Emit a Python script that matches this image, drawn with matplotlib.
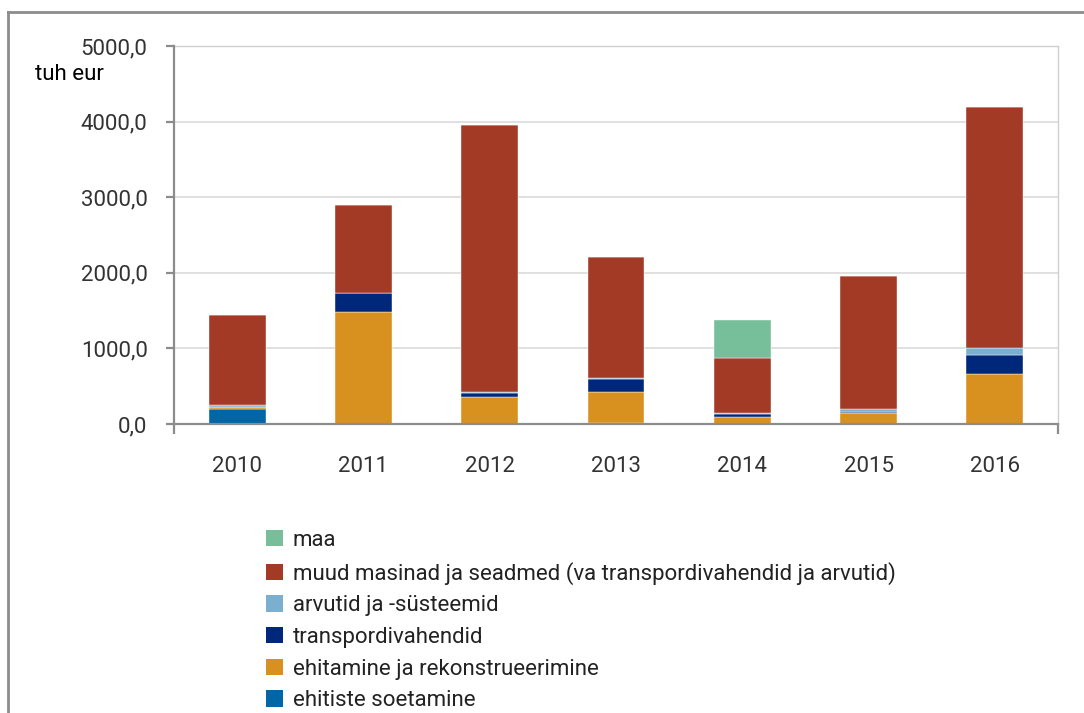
import numpy as np
import matplotlib
matplotlib.use("Agg")
import matplotlib.pyplot as plt
from matplotlib.ticker import FuncFormatter, FixedLocator
from matplotlib.lines import Line2D
from matplotlib.patches import Patch

plt.rcParams['font.family'] = ['Roboto', 'DejaVu Sans']

# andmed (tuh eur)
years = ['2010', '2011', '2012', '2013', '2014', '2015', '2016']
ehitiste_soetamine = [195, 0, 0, 15, 0, 0, 0]
ehitamine = [35, 1480, 353, 405, 97, 141, 657]
transport = [0, 250, 57, 172, 31, 14, 256]
arvutid = [22, 0, 15, 20, 13, 39, 88]
muud = [1195, 1170, 3535, 1598, 728, 1766, 3194]
maa = [0, 0, 0, 0, 506, 0, 0]

series = [
    ('ehitiste soetamine', ehitiste_soetamine, '#0066a6'),
    ('ehitamine ja rekonstrueerimine', ehitamine, '#d8901f'),
    ('transpordivahendid', transport, '#00287a'),
    ('arvutid ja -süsteemid', arvutid, '#7bafd0'),
    ('muud masinad ja seadmed (va transpordivahendid ja arvutid)', muud, '#a33a25'),
    ('maa', maa, '#76bf9a'),
]

fig = plt.figure(figsize=(10.84, 7.13), dpi=100)
ax = fig.add_axes([174 / 1084, 1 - 424 / 713, (1058 - 174) / 1084, (424 - 46) / 713])

x = np.arange(len(years))
bottom = np.zeros(len(years))
for name, vals, col in series:
    vals = np.array(vals, dtype=float)
    ax.bar(x, vals, 0.45, bottom=bottom, color=col, edgecolor='white',
           linewidth=0.3, zorder=3)
    bottom += vals

ax.set_xlim(-0.5, len(years) - 0.5)
ax.set_ylim(0, 5000)
ax.set_yticks(np.arange(0, 5001, 1000))
ax.yaxis.set_major_formatter(FuncFormatter(lambda v, p: f'{v:.1f}'.replace('.', ',')))
ax.set_xticks(x)
ax.set_xticklabels(years)
ax.xaxis.set_minor_locator(FixedLocator([-0.5, len(years) - 0.5]))

ax.grid(axis='y', color='#dadada', linewidth=1.2, zorder=0)
ax.set_axisbelow(True)
for s in ['top', 'right']:
    ax.spines[s].set_color('#d0d0d0')
    ax.spines[s].set_linewidth(1.0)
for s in ['left', 'bottom']:
    ax.spines[s].set_color('#8c8c8c')
    ax.spines[s].set_linewidth(1.6)
ax.spines['left'].set_zorder(4)
ax.spines['bottom'].set_zorder(4)

ax.tick_params(axis='y', direction='out', length=6, width=1.6, color='#8c8c8c',
               labelsize=16, labelcolor='#333333', pad=13)
ax.tick_params(axis='x', which='major', length=0, labelsize=16,
               labelcolor='#333333', pad=23)
ax.tick_params(axis='x', which='minor', direction='out', length=7, width=1.6,
               color='#8c8c8c')

fig.text(35 / 1084, 1 - 75 / 713, 'tuh eur', fontsize=16, color='black',
         va='center', ha='left')

handles = [Patch(facecolor=col, edgecolor='none') for _, _, col in series][::-1]
labels = [name for name, _, _ in series][::-1]
fig.legend(handles, labels, loc='upper left',
           bbox_to_anchor=(266 / 1084, 1 - 530 / 713), frameon=False,
           fontsize=16, handlelength=0.75, handleheight=0.75, handletextpad=0.45,
           labelspacing=0.48, borderaxespad=0, borderpad=0, labelcolor='#222222')

# outer frame (cut off at the right and bottom)
fig.add_artist(Line2D([8 / 1084, 8 / 1084], [0, 1 - 12 / 713], color='#8c8c8c',
                      linewidth=2, transform=fig.transFigure))
fig.add_artist(Line2D([8 / 1084, 1], [1 - 12 / 713, 1 - 12 / 713], color='#8c8c8c',
                      linewidth=2, transform=fig.transFigure))

fig.savefig('out.png', dpi=100)
